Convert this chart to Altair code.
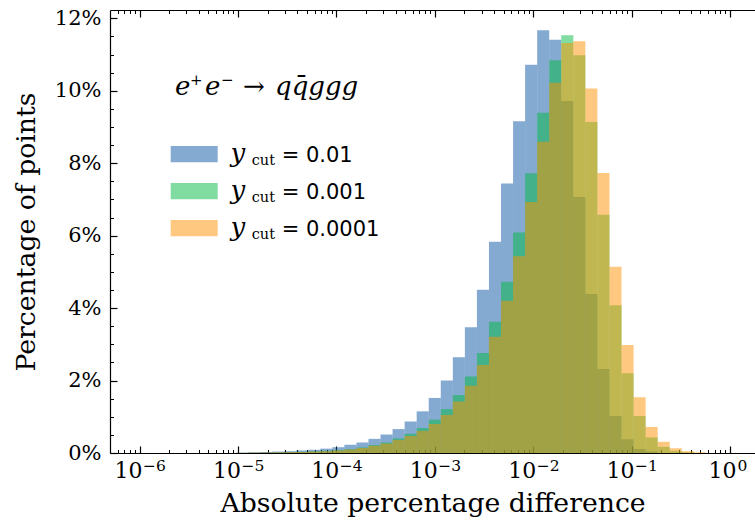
import altair as alt
import numpy as np
import pandas as pd

# ---------------- data ----------------
ycut_labels = ["0.01", "0.001", "0.0001"]
colors = ["#0b55a5", "#01b941", "#ff9101"]

# percentage of points per log-spaced bin (49 bins from 1e-6 to 1)
pct_001 = [0, 0, 0, 0, 0, 0, 0, 0, 0.01, 0.02,
           0.03, 0.04, 0.05, 0.07, 0.09, 0.12, 0.16, 0.23, 0.29, 0.39,
           0.51, 0.66, 0.87, 1.15, 1.52, 2.00, 2.64, 3.47, 4.51, 5.83,
           7.44, 9.16, 10.72, 11.67, 11.41, 9.72, 7.07, 4.39, 2.32, 1.02,
           0.38, 0.11, 0.04, 0, 0, 0, 0, 0, 0]
pct_0001 = [0, 0, 0, 0, 0, 0, 0, 0, 0.005, 0.01,
            0.015, 0.02, 0.03, 0.035, 0.045, 0.06, 0.08, 0.11, 0.15, 0.22,
            0.29, 0.40, 0.53, 0.69, 0.92, 1.21, 1.60, 2.11, 2.76, 3.62,
            4.73, 6.09, 7.72, 9.39, 10.84, 11.53, 10.98, 9.14, 6.58, 4.08,
            2.20, 1.02, 0.43, 0.17, 0.06, 0.02, 0, 0, 0]
pct_00001 = [0, 0, 0, 0, 0, 0, 0, 0, 0.005, 0.01,
             0.012, 0.018, 0.025, 0.03, 0.04, 0.05, 0.07, 0.10, 0.14, 0.20,
             0.26, 0.36, 0.47, 0.61, 0.80, 1.05, 1.42, 1.86, 2.43, 3.21,
             4.20, 5.43, 6.93, 8.59, 10.22, 11.32, 11.37, 10.06, 7.73, 5.14,
             2.98, 1.54, 0.72, 0.31, 0.13, 0.05, 0.02, 0, 0]
series_values = [pct_001, pct_0001, pct_00001]

bin_edges = np.logspace(-6, 0, 50)

x_major = [1e-6, 1e-5, 1e-4, 1e-3, 1e-2, 1e-1, 1e0]
x_label_base = ["10", "10", "10", "10", "10", "10", "10"]
x_label_exp = ["−6", "−5", "−4", "−3", "−2", "−1", "0"]
y_major = [0, 2, 4, 6, 8, 10, 12]

x_lo, x_hi = 10 ** -6.3, 10 ** 0.2545
x_minor = [m * 10.0 ** e for e in range(-7, 1) for m in range(2, 10)
           if x_lo < m * 10.0 ** e < x_hi]
y_minor = [v / 2 for v in range(0, 25) if v % 4 != 0]

rows = []
for name, vals in zip(ycut_labels, series_values):
    for k, v in enumerate(vals):
        rows.append({"series": name, "x0": bin_edges[k], "x1": bin_edges[k + 1],
                     "pct": v, "base": 0.0})
df = pd.DataFrame(rows)

xlab = pd.DataFrame({"v": x_major, "base": x_label_base, "exp": x_label_exp})
xlab["neg"] = xlab["exp"].str.startswith("−")

# ---------------- scales / axes ----------------
SERIF = "DejaVu Serif"
xscale = alt.Scale(type="log", domain=[x_lo, x_hi], nice=False)
yscale = alt.Scale(domain=[0, 12.23], nice=False, zero=True)

x_main_axis = alt.Axis(orient="bottom", values=x_major, ticks=False, tickSize=0,
                       labels=False,
                       domain=True, domainColor="black", domainWidth=1.2,
                       grid=False, title="Absolute percentage difference",
                       titleFont=SERIF, titleFontSize=26.7, titleFontWeight="normal",
                       titleColor="black", titleBaseline="alphabetic", titleY=58.5)
y_main_axis = alt.Axis(orient="left", values=y_major, ticks=False, tickSize=0,
                       labelExpr="datum.value + '%'",
                       labelFont=SERIF, labelFontSize=21, labelPadding=9,
                       labelColor="black",
                       domain=True, domainColor="black", domainWidth=1.2,
                       grid=False, title="Percentage of points",
                       titleFont=SERIF, titleFontSize=26.7, titleFontWeight="normal",
                       titleColor="black", titlePadding=14)


def tick_axis(orient, values, size, width):
    return alt.Axis(orient=orient, values=values, offset=-size, tickSize=size,
                    tickWidth=width, tickColor="black", labels=False,
                    domain=False, grid=False, title=None)


def bar_layer(i, with_axes):
    d = df[(df.series == ycut_labels[i]) & (df.pct > 0)]
    return alt.Chart(d).mark_rect(color=colors[i], opacity=0.5).encode(
        x=alt.X("x0:Q", scale=xscale, axis=x_main_axis if with_axes else None),
        x2="x1:Q",
        y=alt.Y("pct:Q", scale=yscale, axis=y_main_axis if with_axes else None),
        y2="base:Q",
    )


def axis_layer(xaxis, yaxis):
    return alt.Chart(df.head(1)).mark_point(opacity=0).encode(
        x=alt.X("x0:Q", scale=xscale, axis=xaxis),
        y=alt.Y("pct:Q", scale=yscale, axis=yaxis),
    )


layers = [bar_layer(0, True), bar_layer(1, False), bar_layer(2, False)]

top_spine = alt.Axis(orient="top", values=x_major, ticks=False, tickSize=0,
                     labels=False, domain=True, domainColor="black",
                     domainWidth=1.2, grid=False, title=None)
layers.append(axis_layer(top_spine, None))
layers.append(axis_layer(tick_axis("bottom", x_major, 7, 1.2),
                         tick_axis("left", y_major, 7, 1.2)))
layers.append(axis_layer(tick_axis("bottom", x_minor, 3.5, 1),
                         tick_axis("left", y_minor, 3.5, 1)))
layers.append(axis_layer(tick_axis("top", x_major, 7, 1.2), None))
layers.append(axis_layer(tick_axis("top", x_minor, 3.5, 1), None))

# ---------------- x tick labels 10^n (base + superscript) ----------------
for neg, base_dx, exp_dx in [(True, 3, 3.5), (False, 6.5, 7.5)]:
    sub = xlab[xlab.neg == neg]
    layers.append(alt.Chart(sub).mark_text(
        font=SERIF, fontSize=22, align="right", baseline="alphabetic",
        color="black", dx=base_dx).encode(
        x=alt.X("v:Q", scale=xscale, axis=None), y=alt.value(468),
        text="base:N"))
    layers.append(alt.Chart(sub).mark_text(
        font=SERIF, fontSize=15.5, align="left", baseline="alphabetic",
        color="black", dx=exp_dx).encode(
        x=alt.X("v:Q", scale=xscale, axis=None), y=alt.value(461),
        text="exp:N"))

# ---------------- manual legend ----------------
one = pd.DataFrame({"k": [0]})
for i, lab in enumerate(ycut_labels):
    dy = 37 * i
    layers.append(alt.Chart(one).mark_rect(color=colors[i], opacity=0.5).encode(
        x=alt.value(60.7), x2=alt.value(107.7),
        y=alt.value(136 + dy), y2=alt.value(152.3 + dy)))
    layers.append(alt.Chart(pd.DataFrame({"t": ["y"]})).mark_text(
        font=SERIF, fontSize=26, fontStyle="italic", align="left",
        baseline="alphabetic", color="black").encode(
        text="t:N", x=alt.value(120.5), y=alt.value(151.7 + dy)))
    layers.append(alt.Chart(pd.DataFrame({"t": ["cut"]})).mark_text(
        font=SERIF, fontSize=14.5, align="left", baseline="alphabetic",
        color="black").encode(
        text="t:N", x=alt.value(141.7), y=alt.value(154.5 + dy)))
    layers.append(alt.Chart(pd.DataFrame({"t": ["= " + lab]})).mark_text(
        font="DejaVu Sans", fontSize=21, align="left", baseline="alphabetic",
        color="black").encode(
        text="t:N", x=alt.value(171.7), y=alt.value(151.7 + dy)))

# annotation e+e- -> q qbar g g g
annot_parts = ["e", "+", "e", "−", "→", "qq̄ggg"]
annot_x = [65, 80, 95, 111, 133, 165]
annot_y = [85, 75, 85, 75, 85, 85]
annot_size = [26, 15, 26, 15, 26, 26]
annot_style = ["italic", "normal", "italic", "normal", "normal", "italic"]
for txt, ax, ay, fs, st in zip(annot_parts, annot_x, annot_y, annot_size, annot_style):
    layers.append(alt.Chart(pd.DataFrame({"t": [txt]})).mark_text(
        font=SERIF, fontSize=fs, fontStyle=st, align="left",
        baseline="alphabetic", color="black").encode(
        text="t:N", x=alt.value(ax), y=alt.value(ay)))

chart = alt.layer(*layers).resolve_axis(
    x="independent", y="independent"
).properties(
    width=645, height=443,
    autosize=alt.AutoSizeParams(type="none"),
    padding={"left": 110, "top": 10, "right": 0, "bottom": 69},
    background="white",
).configure_view(stroke=None)

chart.save("out.html", embed_options={"renderer": "svg", "actions": False})
